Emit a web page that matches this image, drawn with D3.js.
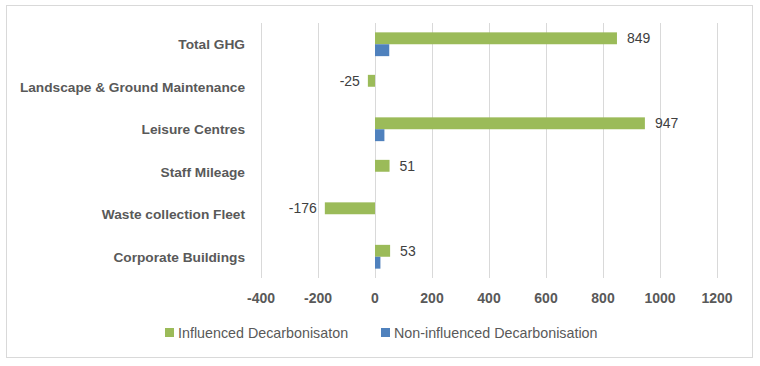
<!DOCTYPE html>
<html>
<head>
<meta charset="utf-8">
<script src="https://cdn.jsdelivr.net/npm/d3@7"></script>
<style>
  body { margin: 0; background: #fff; }
  svg text { font-family: "Liberation Sans", Arial, sans-serif; }
</style>
</head>
<body>
<svg id="chart" width="760" height="366"></svg>
<script>
// data
const categories = ["Total GHG", "Landscape & Ground Maintenance", "Leisure Centres", "Staff Mileage", "Waste collection Fleet", "Corporate Buildings"]
const influenced = [849, -25, 947, 51, -176, 53]
const nonInfluenced = [50, 0, 33, 0, 0, 19]
const ticks = [-400, -200, 0, 200, 400, 600, 800, 1000, 1200]
const seriesNames = ["Influenced Decarbonisaton", "Non-influenced Decarbonisation"]
const colors = ["#9BBB59", "#4F81BD"]

const svg = d3.select("#chart")

// outer frame
svg.append("rect")
    .attr("x", 6.5).attr("y", 5.5)
    .attr("width", 746).attr("height", 352)
    .attr("fill", "#fff")
    .attr("stroke", "#D9D9D9")

const xScale = d3.scaleLinear()
    .domain([-400, 1200])
    .range([261, 717])

const yScale = d3.scaleBand()
    .domain(categories)
    .range([23, 278])
    .paddingInner(0.44)
    .paddingOuter(0.22)

const inner = d3.scaleBand()
    .domain([0, 1])
    .range([0, yScale.bandwidth()])

// gridlines
svg.append("g")
    .selectAll("line")
    .data(ticks)
    .join("line")
    .attr("x1", d => xScale(d) + 0.5)
    .attr("x2", d => xScale(d) + 0.5)
    .attr("y1", 23)
    .attr("y2", 278)
    .style("stroke", "#D9D9D9")
    .style("stroke-width", 1)

// tick labels
svg.append("g")
    .selectAll("text")
    .data(ticks)
    .join("text")
    .attr("x", d => xScale(d))
    .attr("y", 303)
    .attr("text-anchor", "middle")
    .style("font-size", "14px")
    .style("font-weight", "bold")
    .style("fill", "#595959")
    .text(d => d)

// category labels
svg.append("g")
    .selectAll("text")
    .data(categories)
    .join("text")
    .attr("x", 245)
    .attr("y", d => yScale(d) + yScale.bandwidth() / 2 + 5)
    .attr("text-anchor", "end")
    .style("font-size", "13.7px")
    .style("font-weight", "bold")
    .style("fill", "#595959")
    .text(d => d)

const series = [influenced, nonInfluenced]

series.forEach((vals, s) => {
    svg.append("g")
        .selectAll("rect")
        .data(vals)
        .join("rect")
        .attr("x", d => xScale(Math.min(0, d)))
        .attr("width", d => Math.abs(xScale(d) - xScale(0)))
        .attr("y", (d, i) => yScale(categories[i]) + inner(s))
        .attr("height", inner.bandwidth())
        .style("fill", colors[s])
})

// data labels for influenced series
svg.append("g")
    .selectAll("text")
    .data(influenced)
    .join("text")
    .attr("x", d => d >= 0 ? xScale(d) + 10 : xScale(d) - 8)
    .attr("y", (d, i) => yScale(categories[i]) + inner.bandwidth() / 2 + 5)
    .attr("text-anchor", d => d >= 0 ? "start" : "end")
    .style("font-size", "14px")
    .style("fill", "#404040")
    .text(d => d)

// legend
const legendX = [165, 381]
const legend = svg.append("g")
    .selectAll("g")
    .data(seriesNames)
    .join("g")
    .attr("transform", (d, i) => `translate(${legendX[i]},0)`)

legend.append("rect")
    .attr("x", 0).attr("y", 328)
    .attr("width", 9).attr("height", 9)
    .style("fill", (d, i) => colors[i])

legend.append("text")
    .attr("x", 13)
    .attr("y", 338)
    .style("font-size", "14.3px")
    .style("fill", "#595959")
    .text(d => d)
</script>
</body>
</html>
